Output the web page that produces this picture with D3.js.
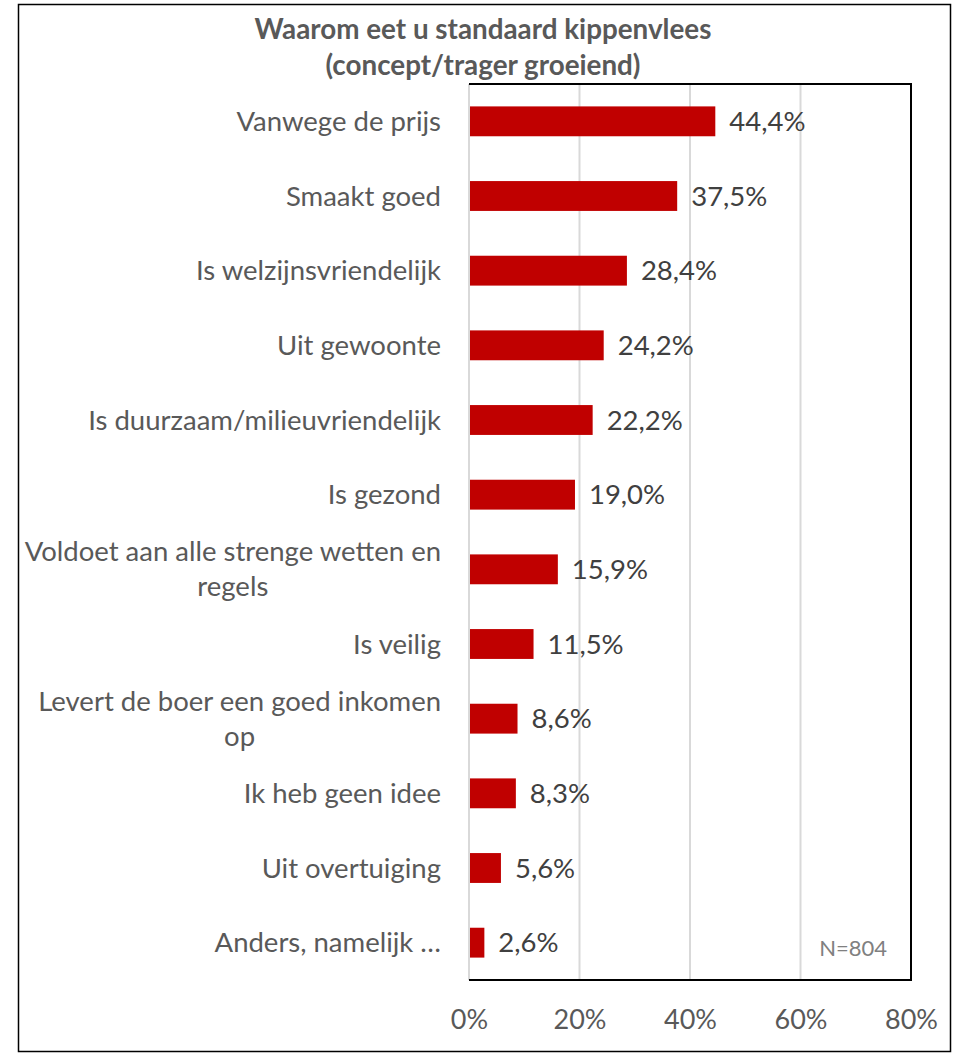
<!DOCTYPE html>
<html><head><meta charset="utf-8">
<script src="https://cdn.jsdelivr.net/npm/d3@7"></script>
<style>body{margin:0;background:#fff}svg{display:block}</style>
</head><body><svg id="c" width="957" height="1056"></svg>
<script>
const categories = [
  "Vanwege de prijs",
  "Smaakt goed",
  "Is welzijnsvriendelijk",
  "Uit gewoonte",
  "Is duurzaam/milieuvriendelijk",
  "Is gezond",
  "Voldoet aan alle strenge wetten en|regels",
  "Is veilig",
  "Levert de boer een goed inkomen|op",
  "Ik heb geen idee",
  "Uit overtuiging",
  "Anders, namelijk …"
];
const values = [44.4, 37.5, 28.4, 24.2, 22.2, 19.0, 15.9, 11.5, 8.6, 8.3, 5.6, 2.6];
const ticks = [0, 20, 40, 60, 80];
const titleLines = ["Waarom eet u standaard kippenvlees", "(concept/trager groeiend)"];
const note = "N=804";

const font = "Lato, sans-serif";
const FS = 27.5;
const svg = d3.select("#c");
const L = 469, R = 911, T = 84, B = 980;

svg.append("rect").attr("x", 18.5).attr("y", 4.5).attr("width", 932).attr("height", 1047)
  .attr("fill", "#fff").attr("stroke", "#000").attr("stroke-width", 1.5);

const x = d3.scaleLinear().domain([0, 80]).range([L, R]);
const y = d3.scaleBand().domain(categories).range([T, B]).paddingInner(0.6).paddingOuter(0.3);

// gridlines
svg.append("g").selectAll("line").data(ticks).join("line")
  .attr("x1", d => x(d)).attr("x2", d => x(d)).attr("y1", T).attr("y2", B)
  .attr("stroke", "#d9d9d9").attr("stroke-width", 2);

// plot frame (top, right, bottom)
svg.append("path").attr("d", `M${L},${T}H${R}V${B}H${L}`).attr("fill", "none")
  .attr("stroke", "#000").attr("stroke-width", 2);

// bars
svg.append("g").selectAll("rect").data(values).join("rect")
  .attr("x", x(0) + 1).attr("y", (d, i) => y(categories[i]))
  .attr("width", d => x(d) - x(0)).attr("height", y.bandwidth())
  .attr("fill", "#c00000");

// value labels
svg.append("g").selectAll("text").data(values).join("text")
  .attr("x", d => x(d) + 15).attr("y", (d, i) => y(categories[i]) + y.bandwidth() / 2)
  .attr("dy", "0.35em").attr("font-family", font).attr("font-size", FS).attr("fill", "#404040")
  .text(d => d.toFixed(1).replace(".", ",") + "%");

// category labels
const lab = svg.append("g");
categories.forEach(c => {
  const lines = c.split("|");
  const cy = y(c) + y.bandwidth() / 2;
  const lh = 35;
  const g = lab.append("g");
  const texts = lines.map((t, k) => g.append("text")
    .attr("y", cy + (k - (lines.length - 1) / 2) * lh).attr("dy", "0.35em")
    .attr("font-family", font).attr("font-size", FS).attr("fill", "#595959").text(t));
  const w = d3.max(texts, t => t.node().getComputedTextLength());
  texts.forEach(t => t.attr("text-anchor", "middle").attr("x", 441 - w / 2));
});

// x axis tick labels
const axis = d3.axisBottom(x).tickValues(ticks).tickFormat(d => d + "%").tickSize(0).tickPadding(0);
const ag = svg.append("g").attr("transform", `translate(0,${B})`).call(axis);
ag.select(".domain").remove();
ag.selectAll("text").attr("font-family", font).attr("font-size", 27).attr("fill", "#595959")
  .attr("y", 40).attr("dy", "0.35em");

// title
svg.append("g").selectAll("text").data(titleLines).join("text")
  .attr("x", 483).attr("y", (d, i) => 29 + i * 36).attr("dy", "0.35em")
  .attr("text-anchor", "middle").attr("font-family", font).attr("font-weight", "bold")
  .attr("font-size", 27.8).attr("fill", "#595959").text(d => d);

// note
svg.append("text").attr("x", 887).attr("y", 948).attr("dy", "0.35em").attr("text-anchor", "end")
  .attr("font-family", font).attr("font-size", 22).attr("fill", "#808080").text(note);
</script></body></html>
